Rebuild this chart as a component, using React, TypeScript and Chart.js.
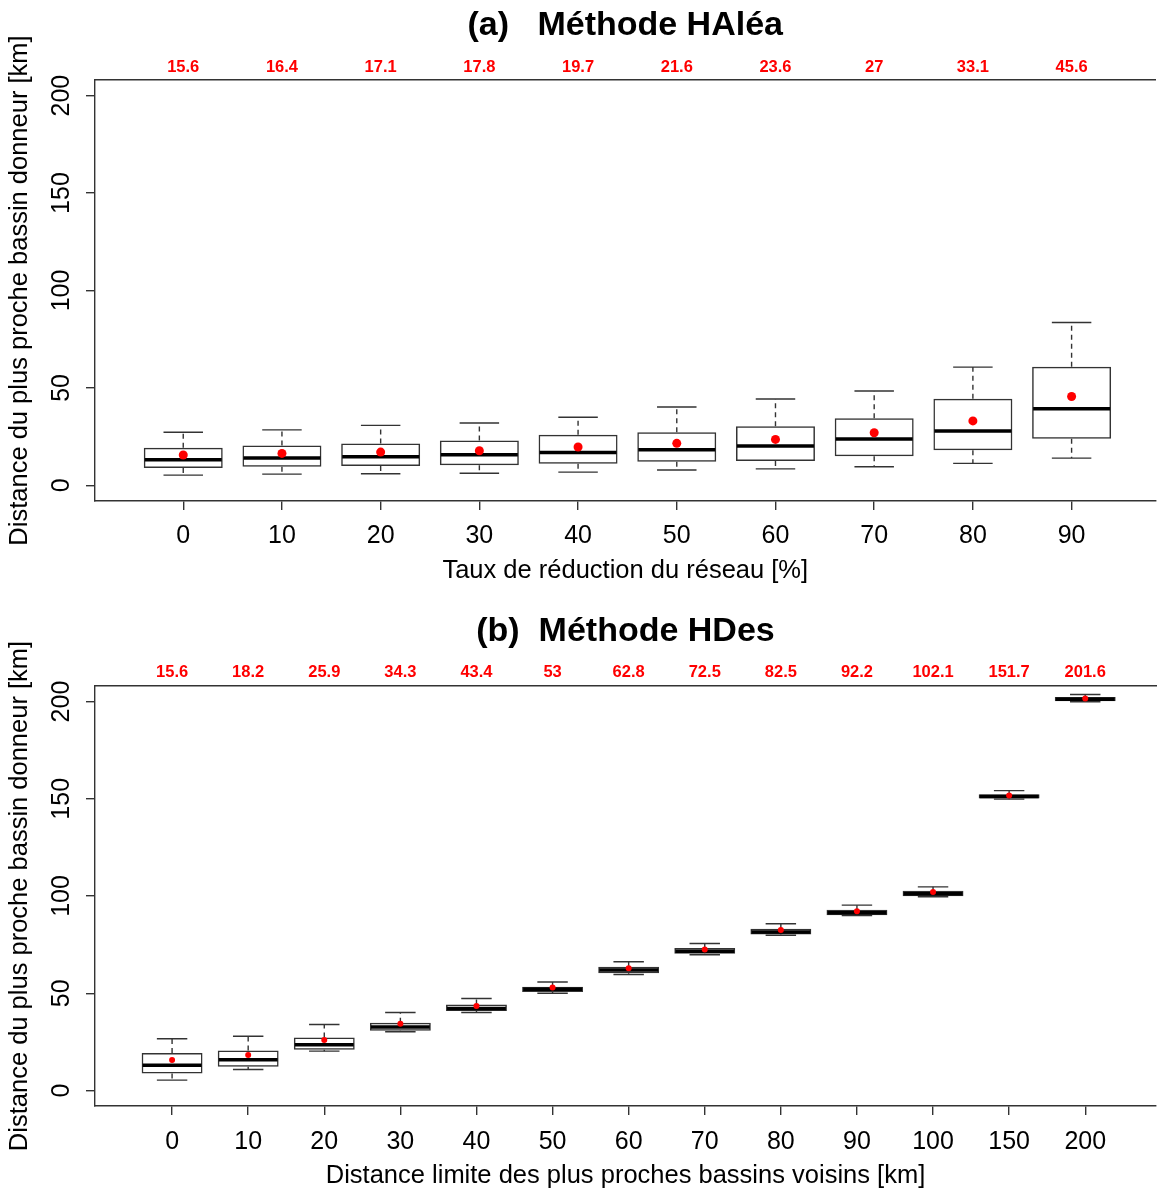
import React, { useEffect, useRef } from "react";
import { Chart, registerables } from "chart.js";

Chart.register(...registerables);

const FONT = "'Liberation Sans', Arial, Helvetica, sans-serif";

// ---------- Panel (a): Méthode HAléa ----------
const titleA = "(a)   Méthode HAléa";
const xTitleA = "Taux de réduction du réseau [%]";
const catsA = ["0", "10", "20", "30", "40", "50", "60", "70", "80", "90"];
const meansA = [15.6, 16.4, 17.1, 17.8, 19.7, 21.6, 23.6, 27, 33.1, 45.6];
const minA = [5.3, 5.8, 6.0, 6.2, 6.8, 7.9, 8.5, 9.6, 11.3, 14.0];
const q1A = [8.9, 9.6, 9.9, 10.3, 11.1, 12.2, 12.5, 14.9, 18.1, 23.9];
const medA = [13.2, 14.0, 14.7, 15.7, 16.9, 18.3, 20.2, 23.8, 27.9, 39.3];
const q3A = [19.3, 20.5, 21.5, 23.1, 26.0, 27.3, 30.4, 34.4, 44.4, 60.9];
const maxA = [27.3, 28.5, 30.8, 32.0, 35.0, 40.2, 44.3, 48.4, 60.7, 83.6];

// ---------- Panel (b): Méthode HDes ----------
const titleB = "(b)  Méthode HDes";
const xTitleB = "Distance limite des plus proches bassins voisins [km]";
const catsB = ["0", "10", "20", "30", "40", "50", "60", "70", "80", "90", "100", "150", "200"];
const meansB = [15.6, 18.2, 25.9, 34.3, 43.4, 53, 62.8, 72.5, 82.5, 92.2, 102.1, 151.7, 201.6];
const minB = [5.3, 10.8, 20.2, 30.2, 40.1, 50.0, 59.6, 69.8, 79.8, 89.9, 99.6, 149.8, 199.9];
const q1B = [8.7, 12.2, 20.9, 30.7, 40.8, 50.6, 60.3, 70.3, 80.2, 90.1, 99.9, 150.1, 200.2];
const medB = [13.0, 15.8, 23.5, 32.6, 42.2, 52.0, 61.9, 71.6, 81.5, 91.4, 101.2, 151.2, 201.2];
const q3B = [19.2, 20.6, 27.2, 34.8, 44.2, 53.3, 63.6, 73.2, 83.1, 92.9, 102.7, 152.3, 202.4];
const maxB = [26.6, 27.9, 33.9, 40.1, 47.3, 55.8, 66.2, 75.6, 85.7, 95.3, 104.7, 154.2, 203.6];

// shared axis
const yTitle = "Distance du plus proche bassin donneur [km]";
const yTicks = [0, 50, 100, 150, 200];

const LINE = "#333333";

type PanelProps = {
  top: number;
  height: number;
  title: string;
  xTitle: string;
  cats: string[];
  means: number[];
  mins: number[];
  q1: number[];
  med: number[];
  q3: number[];
  maxs: number[];
  xMin: number;
  xMax: number;
  bottomHeight: number;
  xTitlePad: number;
  tickPad: number;
  meanPad: number;
  meanRadius: number;
};

function BoxPanel(props: PanelProps) {
  const ref = useRef<HTMLCanvasElement>(null);
  useEffect(() => {
    const positions = props.cats.map((_, i) => i + 1);
    const boxData = positions.map((p, i) => ({ x: p, y: [props.q1[i], props.q3[i]] }));
    const meanData = positions.map((p, i) => ({ x: p, y: props.means[i] }));
    const setTicks = (scale: any) => {
      scale.ticks = positions.map((v) => ({ value: v }));
    };

    const boxParts = {
      id: "boxParts",
      beforeDatasetsDraw(chart: any) {
        const { ctx } = chart;
        const xs = chart.scales.x;
        const ys = chart.scales.y;
        ctx.save();
        ctx.strokeStyle = LINE;
        ctx.lineWidth = 1.4;
        positions.forEach((p, i) => {
          const px = xs.getPixelForValue(p);
          const half = xs.getPixelForValue(p + 0.2) - px;
          const yMax = ys.getPixelForValue(props.maxs[i]);
          const yMin = ys.getPixelForValue(props.mins[i]);
          const yQ1 = ys.getPixelForValue(props.q1[i]);
          const yQ3 = ys.getPixelForValue(props.q3[i]);
          ctx.setLineDash([5, 4]);
          ctx.beginPath();
          ctx.moveTo(px, yQ3);
          ctx.lineTo(px, yMax);
          ctx.moveTo(px, yQ1);
          ctx.lineTo(px, yMin);
          ctx.stroke();
          ctx.setLineDash([]);
          ctx.beginPath();
          ctx.moveTo(px - half, yMax);
          ctx.lineTo(px + half, yMax);
          ctx.moveTo(px - half, yMin);
          ctx.lineTo(px + half, yMin);
          ctx.stroke();
        });
        ctx.restore();
      },
      afterDatasetDraw(chart: any, args: any) {
        if (args.index !== 0) return;
        const { ctx } = chart;
        const ys = chart.scales.y;
        const meta = chart.getDatasetMeta(0);
        ctx.save();
        ctx.strokeStyle = "#000000";
        ctx.lineWidth = 3.5;
        meta.data.forEach((bar: any, i: number) => {
          const y = ys.getPixelForValue(props.med[i]);
          ctx.beginPath();
          ctx.moveTo(bar.x - bar.width / 2 + 1, y);
          ctx.lineTo(bar.x + bar.width / 2 - 1, y);
          ctx.stroke();
        });
        ctx.restore();
      },
    };

    const titleFontSize = 34;
    const titleBox = titleFontSize * 1.2 + 5;

    const chart = new Chart(ref.current as HTMLCanvasElement, {
      type: "bar",
      data: {
        datasets: [
          {
            type: "bar",
            data: boxData as any,
            backgroundColor: "rgba(0,0,0,0)",
            borderColor: LINE,
            borderWidth: 1.5,
            borderSkipped: false,
            barPercentage: 1,
            categoryPercentage: 0.8,
            order: 2,
            xAxisID: "x",
            yAxisID: "y",
          },
          {
            type: "scatter",
            data: meanData as any,
            pointRadius: props.meanRadius,
            pointBackgroundColor: "#ff0000",
            pointBorderWidth: 0,
            order: 1,
            xAxisID: "x",
            yAxisID: "y",
          },
        ],
      } as any,
      options: {
        responsive: false,
        animation: false,
        events: [],
        layout: { padding: 0 },
        plugins: {
          legend: { display: false },
          tooltip: { enabled: false },
          title: {
            display: true,
            text: props.title,
            fullSize: false,
            color: "#000000",
            font: { family: FONT, size: titleFontSize, weight: "bold", lineHeight: 1.2 },
            padding: { top: 5, bottom: 0 },
          },
        },
        scales: {
          x: {
            type: "linear",
            position: "bottom",
            min: props.xMin,
            max: props.xMax,
            offset: false,
            afterBuildTicks: setTicks,
            afterFit: (s: any) => {
              s.height = props.bottomHeight;
            },
            ticks: {
              autoSkip: false,
              maxRotation: 0,
              minRotation: 0,
              padding: props.tickPad,
              color: "#000000",
              font: { family: FONT, size: 25, lineHeight: 1.2 },
              callback: (v: any) => props.cats[Math.round(v) - 1],
            },
            grid: {
              display: true,
              drawOnChartArea: false,
              drawTicks: true,
              tickLength: 9,
              color: LINE,
              lineWidth: 1.4,
              offset: false,
            },
            border: { display: true, color: LINE, width: 1.4 },
            title: {
              display: true,
              text: props.xTitle,
              color: "#000000",
              font: { family: FONT, size: 25.5, lineHeight: 1.2 },
              padding: { top: 0, bottom: props.xTitlePad },
            },
          },
          x2: {
            type: "linear",
            position: "top",
            min: props.xMin,
            max: props.xMax,
            offset: false,
            afterBuildTicks: setTicks,
            afterFit: (s: any) => {
              s.height = 80 - titleBox;
            },
            ticks: {
              autoSkip: false,
              maxRotation: 0,
              minRotation: 0,
              padding: props.meanPad,
              color: "#ff0000",
              font: { family: FONT, size: 16.5, weight: "bold", lineHeight: 1.2 },
              callback: (v: any) => String(props.means[Math.round(v) - 1]),
            },
            grid: { display: false, drawTicks: false, drawOnChartArea: false },
            border: { display: true, color: LINE, width: 1.4 },
          },
          y: {
            type: "linear",
            position: "left",
            min: -8,
            max: 208,
            afterBuildTicks: (s: any) => {
              s.ticks = yTicks.map((v) => ({ value: v }));
            },
            afterFit: (s: any) => {
              s.width = 95;
            },
            ticks: {
              minRotation: 90,
              maxRotation: 90,
              crossAlign: "center",
              padding: 3,
              color: "#000000",
              font: { family: FONT, size: 25, lineHeight: 1.2 },
              callback: (v: any) => String(v),
            },
            grid: {
              display: true,
              drawOnChartArea: false,
              drawTicks: true,
              tickLength: 9,
              color: LINE,
              lineWidth: 1.4,
            },
            border: { display: true, color: LINE, width: 1.4 },
            title: {
              display: true,
              text: yTitle,
              color: "#000000",
              font: { family: FONT, size: 25.5, lineHeight: 1.2 },
              padding: { top: 5, bottom: 0 },
            },
          },
        },
      } as any,
      plugins: [boxParts],
    });
    return () => chart.destroy();
  }, []);
  return (
    <canvas
      ref={ref}
      width={1160}
      height={props.height}
      style={{ position: "absolute", left: 0, top: props.top, width: 1160, height: props.height }}
    />
  );
}

export default function App() {
  return (
    <div
      style={{
        position: "fixed",
        left: 0,
        top: 0,
        width: 1157,
        height: 1191,
        overflow: "hidden",
        background: "#ffffff",
      }}
    >
      <BoxPanel
        top={0}
        height={600}
        title={titleA}
        xTitle={xTitleA}
        cats={catsA}
        means={meansA}
        mins={minA}
        q1={q1A}
        med={medA}
        q3={q3A}
        maxs={maxA}
        xMin={0.106}
        xMax={10.85}
        bottomHeight={99}
        xTitlePad={14}
        tickPad={11}
        meanPad={3}
        meanRadius={4.5}
      />
      <BoxPanel
        top={606}
        height={585}
        title={titleB}
        xTitle={xTitleB}
        cats={catsB}
        means={meansB}
        mins={minB}
        q1={q1B}
        med={medB}
        q3={q3B}
        maxs={maxB}
        xMin={-0.013}
        xMax={13.93}
        bottomHeight={85}
        xTitlePad={0}
        tickPad={12}
        meanPad={4}
        meanRadius={3}
      />
    </div>
  );
}
